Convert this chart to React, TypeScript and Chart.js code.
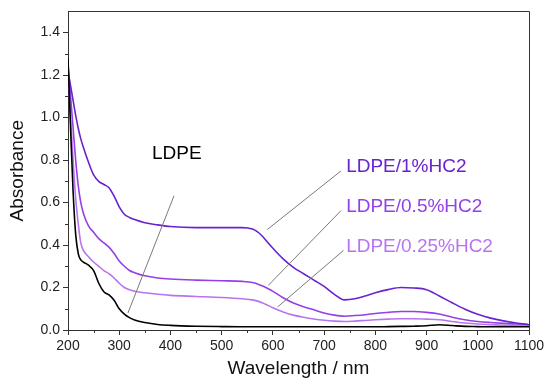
import React, { useEffect, useRef } from "react";
import { Chart, registerables } from "chart.js";

Chart.register(...registerables);

const wavelengths = [200, 205, 210, 215, 220, 225, 230, 240, 250, 260, 270, 280, 290, 300, 310, 320, 330, 350, 375, 400, 450, 500, 540, 560, 570, 580, 590, 600, 620, 640, 660, 680, 700, 720, 740, 760, 780, 800, 825, 850, 875, 900, 925, 950, 975, 1000, 1025, 1050, 1075, 1100];

const ldpe = [1.28, 0.95, 0.65, 0.45, 0.36, 0.33, 0.32, 0.305, 0.28, 0.22, 0.18, 0.165, 0.14, 0.1, 0.075, 0.058, 0.047, 0.035, 0.026, 0.022, 0.018, 0.016, 0.015, 0.015, 0.015, 0.015, 0.015, 0.015, 0.015, 0.015, 0.015, 0.015, 0.015, 0.015, 0.015, 0.015, 0.015, 0.015, 0.016, 0.017, 0.018, 0.02, 0.025, 0.021, 0.017, 0.016, 0.015, 0.015, 0.015, 0.015];

const hc2_1 = [1.22, 1.15, 1.08, 1.01, 0.95, 0.9, 0.86, 0.79, 0.73, 0.7, 0.685, 0.67, 0.63, 0.58, 0.545, 0.53, 0.52, 0.505, 0.495, 0.487, 0.482, 0.482, 0.482, 0.475, 0.462, 0.44, 0.412, 0.385, 0.335, 0.295, 0.265, 0.235, 0.205, 0.168, 0.142, 0.147, 0.16, 0.175, 0.19, 0.2, 0.198, 0.19, 0.16, 0.128, 0.098, 0.074, 0.056, 0.043, 0.033, 0.025];

const hc2_05 = [1.25, 1.1, 0.95, 0.8, 0.68, 0.6, 0.55, 0.49, 0.46, 0.43, 0.41, 0.39, 0.36, 0.325, 0.3, 0.28, 0.27, 0.255, 0.245, 0.24, 0.235, 0.232, 0.229, 0.224, 0.217, 0.207, 0.195, 0.182, 0.152, 0.127, 0.11, 0.095, 0.08, 0.07, 0.065, 0.068, 0.072, 0.078, 0.083, 0.087, 0.087, 0.083, 0.075, 0.06, 0.048, 0.04, 0.035, 0.031, 0.028, 0.025];

const hc2_025 = [1.25, 1.0, 0.8, 0.62, 0.5, 0.41, 0.375, 0.345, 0.32, 0.3, 0.28, 0.265, 0.245, 0.22, 0.2, 0.19, 0.182, 0.175, 0.168, 0.163, 0.158, 0.153, 0.147, 0.142, 0.136, 0.127, 0.116, 0.105, 0.085, 0.07, 0.06, 0.052, 0.046, 0.042, 0.04, 0.042, 0.045, 0.048, 0.051, 0.053, 0.053, 0.051, 0.048, 0.04, 0.033, 0.028, 0.025, 0.022, 0.02, 0.018];

const seriesNames = ["LDPE", "LDPE/1%HC2", "LDPE/0.5%HC2", "LDPE/0.25%HC2"];
const seriesColors = ["#000000", "#6a22cf", "#9440e6", "#b874ef"];

// label anchor [x, y] and leader line [x1, y1, x2, y2] in data units
const labelPos = [
  [364, 0.83],
  [743, 0.768],
  [743, 0.58],
  [743, 0.393],
];
const leaderLines = [
  [407, 0.632, 317, 0.08],
  [733, 0.749, 589, 0.473],
  [733, 0.562, 591, 0.21],
  [738, 0.375, 609, 0.108],
];

const FONT = "'Liberation Sans', Arial, sans-serif";

const decorPlugin = {
  id: "decor",
  afterDraw(chart: any) {
    const { ctx, chartArea, scales } = chart;
    const xs = scales.x;
    const ys = scales.y;
    ctx.save();
    ctx.strokeStyle = "#333";
    ctx.lineWidth = 1;
    ctx.beginPath();
    ctx.moveTo(chartArea.left, Math.round(chartArea.top) + 0.5);
    ctx.lineTo(Math.round(chartArea.right) + 0.5, Math.round(chartArea.top) + 0.5);
    ctx.lineTo(Math.round(chartArea.right) + 0.5, chartArea.bottom);
    ctx.stroke();
    ctx.beginPath();
    for (let v = 250; v < 1100; v += 100) {
      const px = Math.round(xs.getPixelForValue(v)) + 0.5;
      ctx.moveTo(px, chartArea.bottom);
      ctx.lineTo(px, chartArea.bottom + 3);
    }
    for (let i = 1; i < 15; i += 2) {
      const py = Math.round(ys.getPixelForValue(i / 10)) + 0.5;
      ctx.moveTo(chartArea.left, py);
      ctx.lineTo(chartArea.left - 3, py);
    }
    ctx.stroke();
    ctx.strokeStyle = "#7a7a7a";
    ctx.lineWidth = 1;
    leaderLines.forEach((l) => {
      ctx.beginPath();
      ctx.moveTo(xs.getPixelForValue(l[0]), ys.getPixelForValue(l[1]));
      ctx.lineTo(xs.getPixelForValue(l[2]), ys.getPixelForValue(l[3]));
      ctx.stroke();
    });
    ctx.font = `19px ${FONT}`;
    ctx.textAlign = "left";
    ctx.textBaseline = "middle";
    labelPos.forEach((p, i) => {
      ctx.fillStyle = seriesColors[i];
      ctx.fillText(seriesNames[i], xs.getPixelForValue(p[0]), ys.getPixelForValue(p[1]));
    });
    ctx.restore();
  },
};

export default function App() {
  const ref = useRef<HTMLCanvasElement>(null);
  useEffect(() => {
    document.body.style.margin = "0";
    const seriesData = [ldpe, hc2_1, hc2_05, hc2_025];
    const chart = new Chart(ref.current as HTMLCanvasElement, {
      type: "line",
      data: {
        datasets: seriesData.map((vals, i) => ({
          label: seriesNames[i],
          data: wavelengths.map((w, j) => ({ x: w, y: vals[j] })),
          borderColor: seriesColors[i],
          borderWidth: 1.6,
          pointRadius: 0,
          fill: false,
          cubicInterpolationMode: "monotone" as const,
        })),
      },
      options: {
        animation: false,
        responsive: false,
        maintainAspectRatio: false,
        layout: { padding: { left: 6, right: 21, top: 10, bottom: 8 } },
        plugins: { legend: { display: false }, tooltip: { enabled: false } },
        scales: {
          x: {
            type: "linear",
            min: 200,
            max: 1100,
            afterFit: (s: any) => { s.height = 50; },
            ticks: { stepSize: 100, color: "#222", font: { family: FONT, size: 14 }, padding: 3, maxRotation: 0, callback: (v: any) => String(v) },
            grid: { drawOnChartArea: false, drawTicks: true, tickLength: 5, color: "#333" },
            border: { color: "#333", width: 1 },
            title: { display: true, text: "Wavelength / nm", color: "#111", font: { family: FONT, size: 19 }, padding: { top: 2, bottom: 0 } },
          },
          y: {
            type: "linear",
            min: 0,
            max: 1.5,
            afterFit: (s: any) => { s.width = 62; },
            ticks: { stepSize: 0.2, includeBounds: false, color: "#222", font: { family: FONT, size: 14 }, padding: 3, callback: (v: any) => Number(v).toFixed(1) },
            grid: { drawOnChartArea: false, drawTicks: true, tickLength: 5, color: "#333" },
            border: { color: "#333", width: 1 },
            title: { display: true, text: "Absorbance", color: "#111", font: { family: FONT, size: 19 }, padding: { top: 0, bottom: 4 } },
          },
        },
      },
      plugins: [decorPlugin],
    });
    return () => chart.destroy();
  }, []);
  return (
    <div style={{ position: "absolute", left: 0, top: 0, width: 550, height: 388 }}>
      <canvas ref={ref} width={550} height={388} style={{ width: 550, height: 388 }} />
    </div>
  );
}
